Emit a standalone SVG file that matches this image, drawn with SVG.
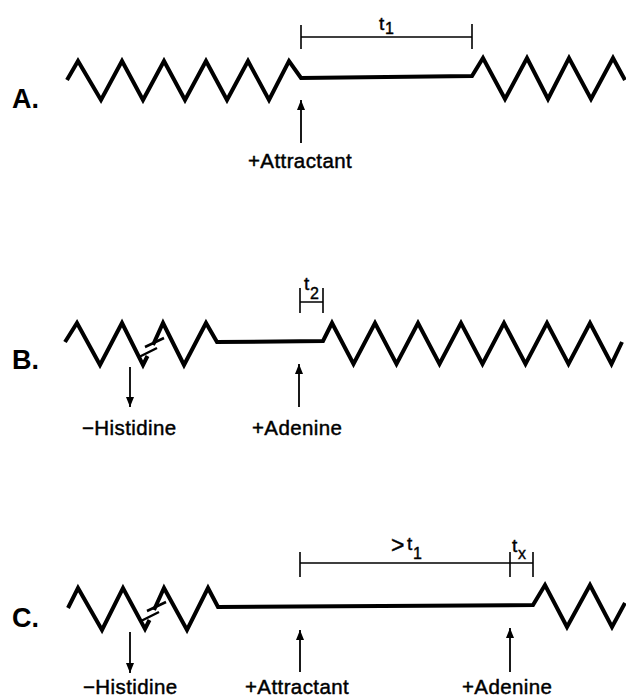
<svg xmlns="http://www.w3.org/2000/svg" width="626" height="699" viewBox="0 0 626 699">
<defs>
<style>
.zig{fill:none;stroke:#000;stroke-width:4;stroke-linejoin:miter;stroke-linecap:butt}
.brk{fill:none;stroke:#000;stroke-width:2.5}
.br{fill:none;stroke:#000;stroke-width:1.6}
.ar{fill:none;stroke:#000;stroke-width:1.8}
.lab{font-family:"Liberation Sans",Arial,sans-serif;font-size:20.5px;letter-spacing:0.4px;fill:#000;stroke:#000;stroke-width:0.45}
.let{font-family:"Liberation Sans",Arial,sans-serif;font-size:27px;font-weight:bold;fill:#000}
.t{font-family:"Liberation Sans",Arial,sans-serif;font-size:19px;fill:#000;stroke:#000;stroke-width:0.4}
.gt{font-family:"Liberation Sans",Arial,sans-serif;font-size:23px;fill:#000;stroke:#000;stroke-width:0.4}
.sub{font-family:"Liberation Sans",Arial,sans-serif;font-size:16px;fill:#000;stroke:#000;stroke-width:0.4}
</style>
<marker id="ah" viewBox="0 0 10 8" refX="10" refY="4" markerWidth="10" markerHeight="8" markerUnits="userSpaceOnUse" orient="auto">
<path d="M0,0 L10,4 L0,8 Z" fill="#000"/>
</marker>
</defs>
<rect width="626" height="699" fill="#fff"/>

<g id="panelA">
<text class="let" x="12" y="108">A.</text>
<path class="zig" d="M67,80 L78,61 L101,100 L122,61 L143,100 L164,61 L185,100 L206,61 L227,100 L248,61 L269,100 L289,61 L301,78 L472,76 L483,58 L505,99 L527,58 L548,99 L569,58 L591,99 L613,58 L625,80"/>
</g>
<g id="panelB">
<text class="let" x="12" y="369">B.</text>
<path class="zig" d="M65,342 L77,323 L100,365 L122,323 L143,365 L147.5,356 M153,345 L163,323 L184,365 L206,323 L217,342 L323,341 L332,323 L353.5,364 L375,323 L396.5,364 L418,323 L439.5,364 L461,323 L482.5,364 L504,323 L525.5,364 L547,323 L568.5,364 L590,323 L611.5,364 L622,342"/>
<path class="brk" d="M139,357 L157,348 M145,347 L164,338"/>
</g>
<g id="panelC">
<text class="let" x="12" y="627">C.</text>
<path class="zig" d="M68,608 L78,588 L102,630 L123,588 L145,629 L149.5,620 M154,610 L164,588 L187,630 L208,588 L218,607 L533,605 L545,585 L567,627 L590,585 L612,627 L625,603"/>
<path class="brk" d="M141,621 L159,612 M147,611 L166,602"/>
</g>

<g id="brackets">
<path class="br" d="M301,37 H472 M301,25 V49 M472,24 V49"/>
<text class="t" x="379" y="30">t</text><text class="sub" x="385" y="34">1</text>
<path class="br" d="M300,302 H323 M300,288 V313 M323,288 V313"/>
<text class="t" x="304" y="290">t</text><text class="sub" x="310" y="299">2</text>
<path class="br" d="M300,563 H533 M300,552 V577 M510,552 V577 M533,552 V577"/>
<text class="gt" x="391" y="553">&gt;</text><text class="t" x="407" y="550">t</text><text class="sub" x="413" y="559">1</text>
<text class="t" x="512" y="552">t</text><text class="sub" x="518" y="559">x</text>
</g>

<g id="connectors">
<path class="ar" marker-end="url(#ah)" d="M301,143 V100"/>
<path class="ar" marker-end="url(#ah)" d="M130,367 V407"/>
<path class="ar" marker-end="url(#ah)" d="M299,407 V364"/>
<path class="ar" marker-end="url(#ah)" d="M130,632 V673"/>
<path class="ar" marker-end="url(#ah)" d="M300,672 V630"/>
<path class="ar" marker-end="url(#ah)" d="M510,672 V628"/>
</g>

<g id="labels">
<text class="lab" x="248" y="168">+Attractant</text>
<text class="lab" x="82" y="435">−Histidine</text>
<text class="lab" x="252" y="435">+Adenine</text>
<text class="lab" x="83" y="694">−Histidine</text>
<text class="lab" x="245" y="694">+Attractant</text>
<text class="lab" x="462" y="694">+Adenine</text>
</g>
</svg>
